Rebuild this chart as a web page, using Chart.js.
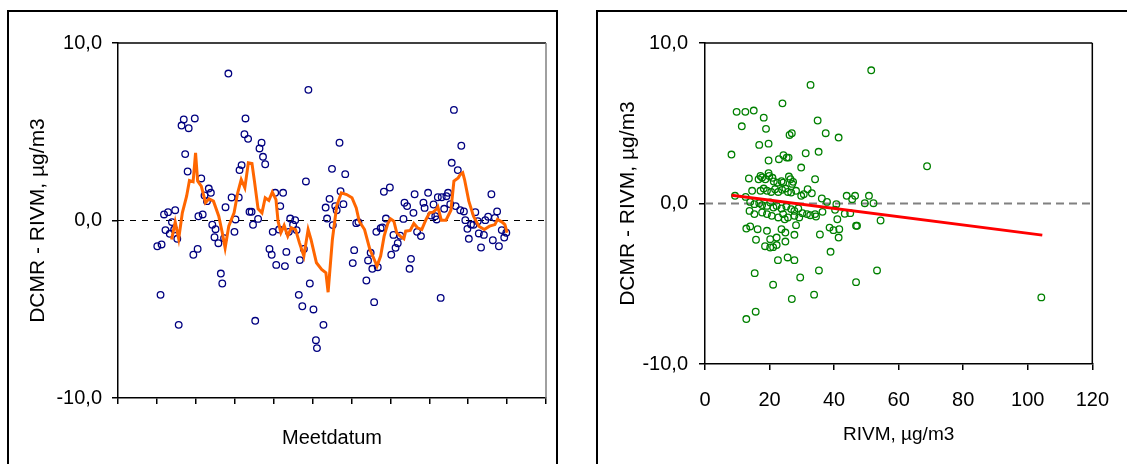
<!DOCTYPE html>
<html>
<head>
<meta charset="utf-8">
<script src="https://cdn.jsdelivr.net/npm/chart.js"></script>
<style>
    body { margin: 0; background: #fff; width: 1127px; height: 464px; overflow: hidden; position: relative; }
    .kader { position: absolute; border: 2px solid #000; box-sizing: border-box; }
    canvas { position: absolute; top: 0; }
</style>
</head>
<body>
<div class="kader" style="left:7px; top:10px; width:551px; height:470px;"></div>
<div class="kader" style="left:596px; top:10px; width:540px; height:470px;"></div>
<canvas id="tijdChart" width="560" height="464" style="left:0"></canvas>
<canvas id="rivmChart" width="567" height="464" style="left:560px"></canvas>
<script>
// --- DATA: verschil DCMR - RIVM per meetdag ---
const meetdagen = [
    30.3, 33.6, 32.8, 35.5, 38.6, 36.6, 39.9, 41.6, 44.1, 43.3,
    45.7, 46.8, 49.0, 50.7, 54.5, 51.8, 53.7, 59.2, 64.2, 62.0,
    65.3, 58.1, 61.4, 66.7, 70.0, 71.6, 68.6, 72.7, 75.2, 74.4,
    77.4, 79.3, 80.4, 81.8, 82.9, 85.1, 87.6, 90.6, 89.8, 93.1,
    93.7, 95.3, 98.3, 97.5, 100.3, 101.4, 103.0, 104.1, 105.8, 108.0,
    109.1, 110.7, 111.8, 113.5, 116.8, 118.5, 119.3, 121.2, 122.0, 125.1,
    127.3, 124.2, 128.7, 129.8, 132.8, 131.7, 135.0, 136.6, 137.7, 140.2,
    139.4, 142.1, 143.3, 144.9, 146.8, 147.9, 150.7, 152.6, 153.4, 158.4,
    160.1, 161.2, 163.1, 165.0, 165.6, 167.5, 168.6, 170.8, 171.6, 173.8,
    175.2, 181.0, 182.1, 183.7, 185.4, 191.5, 192.8, 194.8, 196.1, 197.5,
    199.2, 200.3, 202.5, 203.9, 205.0, 206.6, 209.6, 210.7, 212.4, 214.0,
    215.7, 217.6, 220.1, 220.9, 222.9, 224.8, 225.9, 227.8, 228.7, 230.6,
    233.6, 235.5, 236.4, 239.1, 241.3, 243.3, 244.6, 245.7, 246.6, 248.8,
    249.6, 251.5, 253.2, 254.5, 256.2, 257.3, 259.0, 260.3, 262.0, 263.9,
    264.7, 266.7, 267.8, 269.4, 270.5, 272.2, 274.1, 275.5, 277.4, 278.2,
    279.9, 282.1, 283.2, 285.4, 287.9, 289.0, 290.6, 292.3, 293.7, 295.9,
    297.8, 299.4
];
const verschilPerDag = [
    -1.45, -1.35, -4.19, 0.34, 0.47, -0.54, -0.75, -0.09, 0.58, -0.51,
    -1.03, -5.88, 5.35, 5.69, 5.2, 3.74, 2.76, 5.75, 2.37, 0.24,
    0.34, -1.93, -1.6, 1.41, 1.8, 1.56, 1.09, -0.24, -0.49, -0.94,
    -1.28, -2.99, -3.55, -1.0, 0.75, 8.28, 1.3, 0.06, -0.64, 1.3,
    2.84, 3.12, 5.75, 4.86, 4.6, 0.49, 0.49, -0.24, -5.65, 0.09,
    4.06, 4.38, 3.59, 3.17, -1.6, -1.93, -0.64, 1.56, -2.5, 0.81,
    1.56, -0.51, -2.57, -1.77, 0.11, -0.64, -0.24, 0.02, -0.54, -2.23,
    -4.19, -4.83, -1.6, 2.2, 7.36, -3.55, -5.01, -6.74, -7.19, -5.88,
    0.73, 0.11, 1.22, 2.91, -0.26, 0.81, 0.58, 4.38, 1.65, 0.92,
    2.61, -2.4, -1.67, -0.15, -0.09, -3.38, -2.25, -1.82, -2.72, -4.6,
    -0.64, -2.63, -0.43, -0.39, 1.62, 0.11, 1.86, -1.93, -0.81, -1.54,
    -1.28, -0.86, 0.09, 1.0, 0.81, -2.72, -2.16, 0.43, 1.48, -0.64,
    -0.88, 1.0, 0.71, 1.56, 0.28, 0.9, 0.24, 0.06, 1.31, -4.36,
    1.31, 0.66, 1.37, 1.56, 0.92, 3.25, 6.23, 0.81, 2.84, 0.58,
    4.21, 0.51, 0.02, -0.47, -1.03, -0.23, -0.24, 0.47, -0.04, -0.73,
    -1.52, -0.81, 0.02, 0.21, 1.48, -1.11, 0.15, 0.51, -1.45, -0.54,
    -0.96, -0.69
];

// --- DATA: lopend gemiddelde (oranje lijn) ---
const gemiddeldeDagen = [
    41.3, 44.1, 46.8, 49.6, 52.9, 55.1, 57.9, 59.8, 61.4, 64.2,
    67.5, 70.2, 73.6, 77.7, 80.4, 82.6, 85.4, 89.5, 92.3, 95.0,
    97.8, 100.5, 103.3, 105.2, 108.0, 111.0, 113.5, 116.3, 119.0, 121.8,
    123.4, 125.6, 128.1, 130.9, 133.6, 136.9, 139.9, 143.3, 146.6, 148.8,
    153.0, 157.0, 160.3, 162.0, 165.3, 168.6, 172.2, 176.3, 180.4, 183.7,
    186.0, 190.1, 194.2, 197.0, 199.7, 202.5, 205.2, 208.0, 210.2, 212.7,
    214.9, 217.6, 220.4, 221.8, 225.3, 228.1, 230.9, 234.2, 237.5, 240.2,
    243.0, 245.2, 246.6, 249.3, 252.9, 256.7, 259.0, 262.3, 263.9, 265.8,
    267.2, 270.5, 274.1, 278.2, 282.4, 286.5, 290.6, 292.6, 296.1, 298.3,
    300.0
];
const gemiddeldeWaarden = [
    -1.07, -0.09, -1.03, 0.43, 1.37, 2.25, 2.18, 3.81, 2.22, 1.93,
    1.0, 1.22, 1.09, 0.24, -0.69, -1.54, -0.32, 0.43, 1.56, 2.31,
    1.84, 3.25, 3.21, 2.22, 0.66, 0.43, 1.28, 1.13, 1.6, 1.18,
    -0.04, -0.69, -0.28, -0.88, -0.41, -0.51, -1.26, -2.0, -0.51, -1.07,
    -2.38, -2.76, -2.95, -4.04, -1.07, 0.81, 1.56, 1.46, 1.28, 0.71,
    -0.04, -0.51, -1.63, -2.1, -2.57, -2.0, -0.88, -0.17, 0.09, -0.04,
    -0.69, -0.88, -1.03, -0.6, -0.56, -0.17, -0.41, -0.51, 0.06, 0.43,
    0.47, 0.62, 0.77, 0.02, 0.02, 0.58, 2.22, 2.4, 2.59, 2.69,
    2.31, 1.09, 0.24, -0.32, -0.51, -0.32, -0.23, 0.06, -0.09, -0.23,
    -0.69
];

// --- DATA: verschil tegen RIVM-concentratie ---
const rivmConcentratie = [
    8.2, 9.8, 12.5, 15.1, 11.4, 18.2, 18.9, 16.8, 19.7, 24.0,
    32.7, 51.5, 34.9, 37.4, 41.4, 26.2, 26.9, 19.7, 22.9, 24.3,
    25.3, 25.9, 31.2, 35.2, 29.8, 68.8,
    45.6, 46.5, 50.8, 52.2, 49.5, 45.0, 46.8, 47.1, 54.4, 43.9,
    43.3, 41.0, 40.3, 36.4, 34.4,
    18.6, 20.2, 21.1, 22.2, 38.9, 22.6, 25.6, 27.7, 15.4, 35.3,
    29.5, 53.3, 46.8, 21.1, 33.8, 26.9, 104.2, 15.7, 12.8, 24.9,
    41.4, 27.7,
    13.6, 16.6, 17.2, 17.7, 18.7, 19.7, 19.9, 20.9, 21.3, 22.4,
    23.7, 24.2, 26.0, 26.5, 27.3, 27.0, 34.1,
    14.6, 17.2, 18.2, 19.2, 20.5, 21.7, 22.7, 23.9, 24.9, 25.7,
    26.7, 28.2, 29.8, 30.6, 31.8, 33.1, 36.2, 37.8, 40.7, 9.3,
    12.6,
    14.0, 15.3, 16.8, 17.7, 19.2, 20.2, 21.2, 22.2, 23.7, 25.2,
    26.7, 27.7, 28.9, 30.2, 31.6, 32.6, 34.1, 13.8, 15.3, 17.7,
    19.2, 20.7, 22.7, 24.2, 25.7, 27.7, 29.2,
    12.8, 14.0, 16.3, 19.2, 23.7, 24.9, 28.2, 24.7, 20.2, 22.2,
    38.6, 39.8, 41.6, 35.6, 15.8
];
const verschilPerConcentratie = [
    3.05, 5.71, 5.71, 5.79, 4.81, 5.35, 4.65, 3.65, 3.73, 6.24,
    7.39, 8.3, 5.17, 4.38, 4.11, 4.27, 4.38, 2.68, 2.76, 3.01,
    2.86, 2.86, 3.13, 3.22, 2.24, 2.32,
    0.27, 0.48, 0.48, 0.02, 0.02, -0.6, -1.39, -1.39, -1.06, 0.48,
    -0.64, -0.98, -0.39, -0.52, -0.81,
    -2.66, -2.74, -2.72, -2.59, -3.01, -3.53, -3.36, -3.53, -4.34, -4.17,
    -4.61, -4.17, -4.9, -5.06, -5.68, -5.95, -5.85, -6.74, -7.2, -2.37,
    -2.12, -1.95,
    1.56, 1.51, 1.72, 1.62, 1.51, 1.89, 1.72, 1.6, 1.37, 1.3,
    1.39, 1.3, 1.68, 1.51, 1.35, 1.22, 1.51,
    0.79, 0.79, 0.93, 0.79, 0.72, 0.89, 0.72, 0.85, 0.93, 0.72,
    0.68, 0.79, 0.48, 0.58, 0.89, 0.64, 0.31, 0.1, -0.04, 0.48,
    0.41,
    0.1, -0.04, 0.02, -0.1, -0.15, 0.06, -0.25, -0.15, -0.31, -0.19,
    -0.35, -0.46, -0.31, -0.6, -0.66, -0.73, -0.66, -0.46, -0.66, -0.56,
    -0.66, -0.77, -0.87, -0.66, -0.87, -0.77, -0.87,
    -1.56, -1.43, -1.6, -1.7, -1.6, -1.81, -1.35, -0.98, -2.22, -2.12,
    -1.5, -1.66, -1.6, -1.93, -2.26
];

// --- DATA: trendlijn ---
const trendX = [8.2, 104.5];
const trendY = [0.52, -1.97];

// --- AS-BEREIK ---
const dagBereik = [0, 330];
const rivmBereik = [0, 120];
const verschilBereik = [-10, 10];

// --- HELPERS ---
function maakPunten(xs, ys) {
    return xs.map((x, i) => ({ x, y: ys[i] }));
}

function komma(v) {
    return v.toFixed(1).replace('.', ',');
}

// rand boven en rechts van het plotvlak
const randPlugin = {
    id: 'rand',
    afterDatasetsDraw(chart, args, opts) {
        const { ctx, chartArea: a } = chart;
        ctx.save();
        ctx.lineWidth = 1.5;
        ctx.strokeStyle = '#000';
        ctx.beginPath();
        ctx.moveTo(a.left, a.top);
        ctx.lineTo(a.right, a.top);
        ctx.stroke();
        ctx.strokeStyle = opts.rechtsKleur;
        ctx.beginPath();
        ctx.moveTo(a.right, a.top);
        ctx.lineTo(a.right, a.bottom);
        ctx.stroke();
        ctx.restore();
    }
};

Chart.defaults.font.family = "'Liberation Sans', Arial, sans-serif";
Chart.defaults.color = '#000';
Chart.defaults.animation = false;

function yAs(breedte, titelAfstand, labelAfstand) {
    return {
        min: verschilBereik[0],
        max: verschilBereik[1],
        afterFit: s => { s.width = breedte; },
        ticks: { stepSize: 10, callback: komma, font: { size: 20 }, padding: labelAfstand },
        grid: { drawOnChartArea: false, tickLength: 6, color: '#000', lineWidth: 1.5 },
        border: { color: '#000', width: 1.5 },
        title: {
            display: true,
            text: 'DCMR - RIVM, µg/m3',
            font: { size: 21 },
            padding: { top: titelAfstand, bottom: 0 }
        }
    };
}

// --- LINKS: verloop in de tijd ---
new Chart(document.getElementById('tijdChart'), {
    type: 'scatter',
    data: {
        datasets: [
            {
                data: maakPunten(gemiddeldeDagen, gemiddeldeWaarden),
                showLine: true, borderColor: '#FF6600', borderWidth: 3,
                pointRadius: 0, tension: 0
            },
            {
                data: maakPunten(meetdagen, verschilPerDag),
                pointRadius: 3.3, borderWidth: 1.3,
                borderColor: '#000080', backgroundColor: 'rgba(0,0,0,0)'
            },
            {
                data: maakPunten(dagBereik, [0, 0]),
                showLine: true, borderColor: '#000', borderWidth: 1,
                borderDash: [6, 6], pointRadius: 0
            }
        ]
    },
    options: {
        responsive: false,
        events: [],
        layout: { padding: { top: 43, right: 14, left: 0, bottom: 0 } },
        plugins: { legend: { display: false }, tooltip: { enabled: false }, rand: { rechtsKleur: '#808080' } },
        scales: {
            x: {
                type: 'linear',
                min: dagBereik[0],
                max: dagBereik[1],
                afterFit: s => { s.height = 66; },
                ticks: { stepSize: 30, display: false },
                grid: { drawOnChartArea: false, tickLength: 6, color: '#000', lineWidth: 1.5 },
                border: { color: '#000', width: 1.5 },
                title: {
                    display: true,
                    text: 'Meetdatum',
                    font: { size: 20 },
                    padding: { top: 0, bottom: 14 }
                }
            },
            y: yAs(118, 26, 10)
        }
    },
    plugins: [randPlugin]
});

// --- RECHTS: verschil tegen RIVM ---
new Chart(document.getElementById('rivmChart'), {
    type: 'scatter',
    data: {
        datasets: [
            {
                data: maakPunten(trendX, trendY),
                showLine: true, borderColor: '#FF0000', borderWidth: 3,
                pointRadius: 0
            },
            {
                data: maakPunten(rivmConcentratie, verschilPerConcentratie),
                pointRadius: 3.3, borderWidth: 1.3,
                borderColor: '#008000', backgroundColor: 'rgba(0,0,0,0)'
            },
            {
                data: maakPunten(rivmBereik, [0, 0]),
                showLine: true, borderColor: '#808080', borderWidth: 2,
                borderDash: [8, 5], pointRadius: 0
            }
        ]
    },
    options: {
        responsive: false,
        events: [],
        layout: { padding: { top: 43, right: 18.5, left: 0, bottom: 0 } },
        plugins: { legend: { display: false }, tooltip: { enabled: false }, rand: { rechtsKleur: '#000' } },
        scales: {
            x: {
                type: 'linear',
                min: rivmBereik[0],
                max: rivmBereik[1],
                afterFit: s => { s.height = 100; },
                ticks: { stepSize: 20, font: { size: 20 }, padding: 18, maxRotation: 0 },
                grid: { drawOnChartArea: false, tickLength: 6, color: '#000', lineWidth: 1.5 },
                border: { color: '#000', width: 1.5 },
                title: {
                    display: true,
                    text: 'RIVM, µg/m3',
                    font: { size: 19 },
                    padding: { top: 0, bottom: 18 }
                }
            },
            y: yAs(145, 56, 11)
        }
    },
    plugins: [randPlugin]
});
</script>
</body>
</html>
